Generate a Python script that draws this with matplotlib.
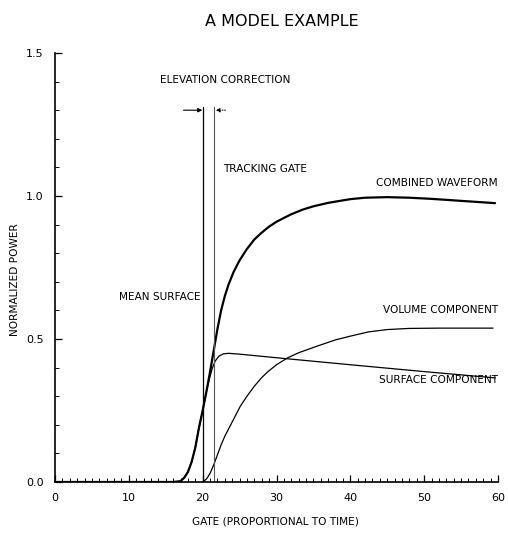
import matplotlib
matplotlib.use("Agg")
import matplotlib.pyplot as plt
from matplotlib.ticker import MultipleLocator

# ---- data ----
combined_x = [0, 16, 17, 17.5, 18, 18.5, 19, 19.5, 20, 20.5, 21, 21.5, 22, 22.5, 23, 23.5,
              24.2, 25, 26, 27, 28, 29, 30, 31.9, 33.5, 35, 37, 38.6, 40, 42, 45, 48,
              51, 55, 59.6]
combined_y = [0, 0, 0.003, 0.015, 0.035, 0.07, 0.12, 0.19, 0.25, 0.315, 0.385, 0.46, 0.535,
              0.60, 0.65, 0.69, 0.735, 0.775, 0.815, 0.848, 0.872, 0.893, 0.91, 0.935,
              0.952, 0.964, 0.976, 0.983, 0.989, 0.994, 0.996, 0.994, 0.99, 0.983, 0.975]

surface_x = [17, 17.5, 18, 18.5, 19, 19.5, 20, 20.5, 20.9, 21.3, 21.7, 22.2, 22.8, 23.5,
             25.0, 31.0, 40.0, 50.0, 59.6]
surface_y = [0.003, 0.015, 0.035, 0.07, 0.12, 0.19, 0.25, 0.315, 0.36, 0.397, 0.423, 0.44,
             0.448, 0.45, 0.447, 0.432, 0.41, 0.386, 0.364]

volume_x = [20, 20.5, 21, 21.5, 22, 22.5, 23, 23.6, 24.3, 25.1, 26, 27, 28, 28.8, 30, 31.5,
            33, 35.5, 38, 40, 42.5, 45, 48, 52, 59.3]
volume_y = [0, 0.01, 0.03, 0.06, 0.095, 0.13, 0.16, 0.19, 0.225, 0.265, 0.30, 0.335, 0.365,
            0.385, 0.41, 0.434, 0.452, 0.475, 0.497, 0.51, 0.525, 0.533, 0.537, 0.538, 0.538]

mean_surface_x = 20.1
tracking_gate_x = 21.6
marker_top = 1.31

x_ticks = [0, 10, 20, 30, 40, 50, 60]
y_ticks = [0.0, 0.5, 1.0, 1.5]
y_tick_labels = ["0.0", "0.5", "1.0", "1.5"]

FONT = "DejaVu Sans"
plt.rcParams["font.family"] = [FONT]

fig = plt.figure(figsize=(5.08, 5.33), dpi=100)
ax = fig.add_axes([55 / 508, (533 - 482) / 533, (498 - 55) / 508, (482 - 53) / 533])

ax.plot(combined_x, combined_y, color="black", lw=1.6, solid_capstyle="round",
        solid_joinstyle="round")
ax.plot(surface_x, surface_y, color="black", lw=0.9, solid_joinstyle="round")
ax.plot(volume_x, volume_y, color="black", lw=0.9, solid_joinstyle="round")

ax.plot([mean_surface_x, mean_surface_x], [0, marker_top], color="black", lw=0.9)
ax.plot([tracking_gate_x, tracking_gate_x], [0, marker_top], color="#555555", lw=0.8)

# elevation correction arrows
ax.annotate("", xy=(mean_surface_x - 0.15, 1.30), xytext=(17.4, 1.30),
            arrowprops=dict(arrowstyle="-|>", color="black", lw=0.8,
                            mutation_scale=6, shrinkA=0, shrinkB=0))
ax.annotate("", xy=(tracking_gate_x + 0.15, 1.30), xytext=(23.1, 1.30),
            arrowprops=dict(arrowstyle="-|>", color="black", lw=0.7, ls=(0, (1, 1.5)),
                            mutation_scale=6, shrinkA=0, shrinkB=0))

fs = 7.6
ax.text(23.1, 1.405, "ELEVATION CORRECTION", ha="center", va="center", fontsize=fs)
ax.text(22.8, 1.094, "TRACKING GATE", ha="left", va="center", fontsize=fs)
ax.text(59.9, 1.045, "COMBINED WAVEFORM", ha="right", va="center", fontsize=fs)
ax.text(19.7, 0.647, "MEAN SURFACE", ha="right", va="center", fontsize=fs)
ax.text(60, 0.60, "VOLUME COMPONENT", ha="right", va="center", fontsize=fs)
ax.text(60, 0.357, "SURFACE COMPONENT", ha="right", va="center", fontsize=fs)

ax.set_xlim(0, 60)
ax.set_ylim(0, 1.5)
ax.set_xticks(x_ticks)
ax.set_yticks(y_ticks)
ax.set_yticklabels(y_tick_labels)
ax.xaxis.set_minor_locator(MultipleLocator(1))
ax.yaxis.set_minor_locator(MultipleLocator(0.1))
ax.tick_params(axis="both", which="major", direction="in", length=5, width=0.9,
               labelsize=8, pad=8)
ax.tick_params(axis="both", which="minor", direction="in", length=3, width=0.7)
for s in ["top", "right"]:
    ax.spines[s].set_visible(False)
for s in ["left", "bottom"]:
    ax.spines[s].set_linewidth(1.2)

fig.text(282 / 508, (533 - 21) / 533, "A MODEL EXAMPLE", ha="center", va="center",
         fontsize=11.5)
fig.text(275 / 508, (533 - 521) / 533, "GATE (PROPORTIONAL TO TIME)", ha="center",
         va="center", fontsize=fs)
fig.text(15 / 508, (533 - 280) / 533, "NORMALIZED POWER", ha="center", va="center",
         rotation=90, fontsize=fs)

fig.savefig("out.png", dpi=100)
